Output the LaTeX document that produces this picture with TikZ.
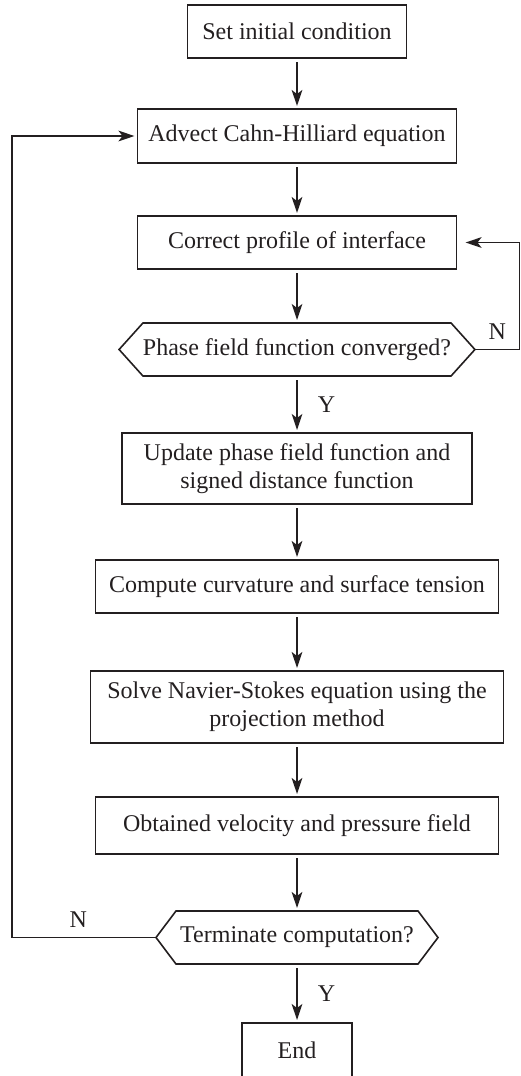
\documentclass[tikz,border=0pt]{standalone}
\usepackage{fontspec}
\setmainfont{Liberation Serif}
\usepackage{tikz}
\usetikzlibrary{shapes.symbols, arrows.meta, positioning}
\definecolor{ink}{RGB}{35, 31, 32}

\begin{document}
\begin{tikzpicture}[
    x=0.5pt, y=0.5pt,
    color=ink,
    node distance=27.5pt,
    font=\fontsize{12}{14}\selectfont,
    stepbox/.style={rectangle, draw, line width=0.8pt, outer sep=0pt, minimum width=#1, minimum height=26.5pt, align=center, inner sep=2pt},
    testbox/.style={signal, signal to=west and east, draw, line width=0.8pt, outer sep=0pt, minimum width=#1, minimum height=26.5pt, inner ysep=2pt},
    arrow/.style={-{Stealth[length=8pt, width=5.3pt, inset=2pt]}, line width=0.8pt, shorten <=2pt, shorten >=1.5pt},
    lbl/.style={inner sep=0pt}
]
    \useasboundingbox (0,0) rectangle (520,-1076);

    \node[stepbox=109.5pt] (init) at (297,-31.5) {Set initial condition};
    \node[stepbox=159.5pt, minimum height=27pt, below=25.5pt of init] (advect) {Advect Cahn-Hilliard equation};
    \node[stepbox=159.5pt, below=26.5pt of advect] (correct) {Correct profile of interface};
    \node[testbox=177.5pt, inner xsep=0pt, signal pointer angle=96, below=27pt of correct] (conv) {Phase field function converged?};
    \node[stepbox=175pt, minimum height=35.5pt, below=28.5pt of conv] (update) {Update phase field function and\\ signed distance function};
    \node[stepbox=201.5pt, below=28pt of update] (curv) {Compute curvature and surface tension};
    \node[stepbox=206.5pt, minimum height=36pt, below=29pt of curv] (solve) {Solve Navier-Stokes equation using the\\ projection method};
    \node[stepbox=201.5pt, minimum height=28.5pt, below=27pt of solve] (velo) {Obtained velocity and pressure field};
    \node[testbox=141pt, inner xsep=1pt, signal pointer angle=106, below=28.5pt of velo] (term) {Terminate computation?};
    \node[stepbox=55pt, minimum height=27pt, below=29.5pt of term] (finish) {End};

    % loop corners
    \coordinate (rloop) at (519.5,0);
    \coordinate (lloop) at (12,0);

    \draw[arrow] (init) -- (advect);
    \draw[arrow] (advect) -- (correct);
    \draw[arrow] (correct) -- (conv);
    \draw[arrow] (conv) -- node[right=10pt, lbl] (yes1) {Y} (update);
    \draw[arrow] (update) -- (curv);
    \draw[arrow] (curv) -- (solve);
    \draw[arrow] (solve) -- (velo);
    \draw[arrow] (velo) -- (term);
    \draw[arrow] (term) -- node[right=10pt, lbl] (yes2) {Y} (finish);

    \draw[arrow, shorten <=0pt, shorten >=4.5pt] (conv.east) -- node[above=4.5pt, lbl] (no1) {N} (conv.east -| rloop) -- (rloop |- correct.east) -- (correct.east);
    \draw[arrow, shorten <=0pt] (term.west) -- node[above=4.5pt, lbl, pos=0.54] (no2) {N} (term.west -| lloop) -- (lloop |- advect.west) -- (advect.west);
\end{tikzpicture}
\end{document}
